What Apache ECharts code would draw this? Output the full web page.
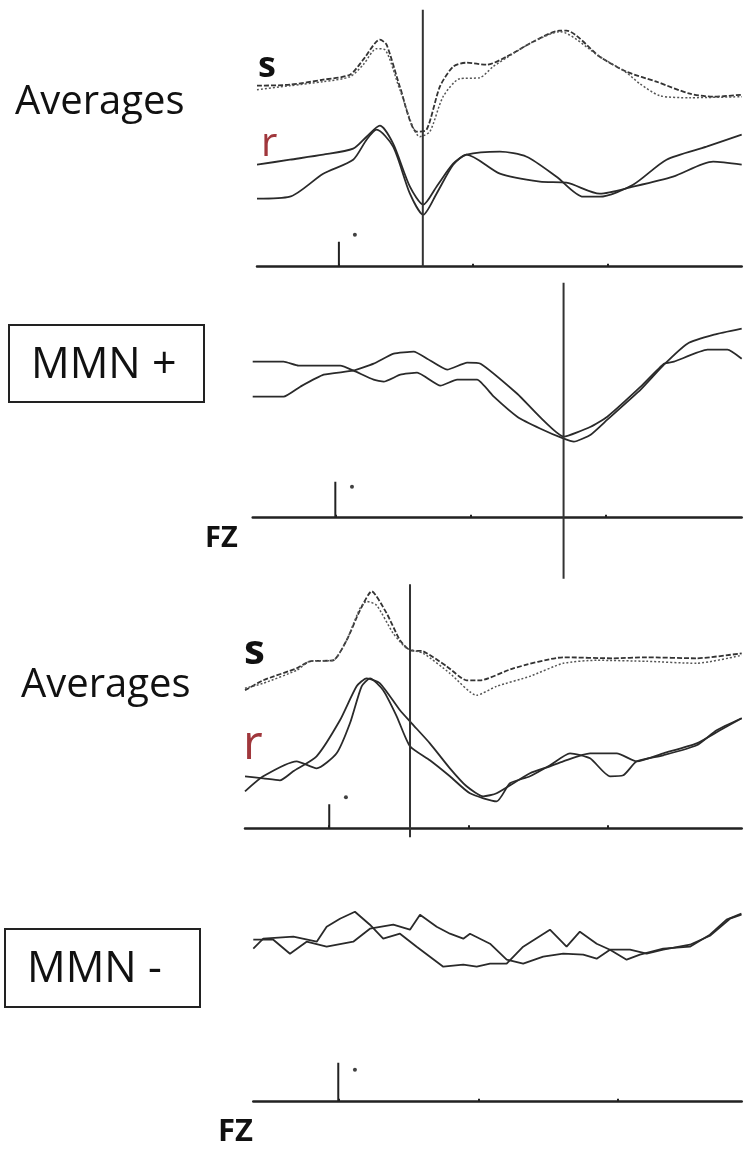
<!DOCTYPE html>
<html>
<head>
<meta charset="utf-8">
<script src="https://cdn.jsdelivr.net/npm/echarts@6/dist/echarts.min.js"></script>
<style>
  html, body { margin: 0; padding: 0; background: #fff; }
  #chart { width: 750px; height: 1162px; }
</style>
</head>
<body>
<div id="chart"></div>
<script>
// 时间 (ms) / 幅值 (任意单位, 0 = 基线)
// 面板1: Averages (上)
const avg1S_a = [[-61,18.1],[-36.5,18.2],[-11.7,18.7],[8.2,19.2],[18.1,20.7],[30.5,22.7],[35.5,22.2],[45.4,18.0],[57.8,13.5],[65.3,13.7],[75.2,18.0],[85.1,20.0],[95.1,20.4],[110,20.2],[124.9,21.0],[144.7,22.5],[164.6,23.6],[169.5,23.6],[194.3,21.0],[214.2,19.5],[236.5,18.5],[261.4,17.3],[278.7,17.0],[300,17.2]];
const avg1S_b = [[-61,17.7],[-36.5,18.1],[-11.7,18.5],[8.2,19.0],[18.1,20.2],[28,21.8],[34.3,21.7],[45.4,17.7],[60.3,13.0],[67.7,13.5],[77.6,17.0],[90,18.8],[104.9,18.9],[114.8,20.0],[124.9,20.9],[144.7,22.5],[164.6,23.5],[194.3,21.0],[214.2,19.4],[224.1,18.3],[239,17.1],[261.4,16.9],[300,17.0]];
const avg1R_a = [[-61,10.2],[-36.5,10.7],[-11.7,11.2],[10.6,11.8],[20.6,13.0],[30.5,14.1],[40.4,12.3],[52.9,8.0],[62.8,6.2],[72.7,8.0],[85.1,10.3],[95.1,11.2],[119.9,11.5],[139.8,11.0],[162.1,9.0],[181.9,7.0],[194.3,7.0],[219.1,8.2],[244,10.7],[273.8,12.0],[300,13.2]];
const avg1R_b = [[-61,6.8],[-36.5,7.0],[-11.7,9.3],[10.6,10.7],[20.6,12.7],[28.1,13.7],[40.4,12.0],[52.9,7.3],[62.8,5.2],[72.7,7.3],[85.1,10.2],[95.1,11.2],[119.9,9.3],[149.7,8.5],[169.5,8.4],[194.3,7.3],[219.1,8.0],[248.9,9.0],[278.7,10.5],[300,10.2]];

// 面板2: MMN +
const mmnPos_a = [[-61,15.6],[-38.2,15.6],[-27.1,15.2],[3.7,15.2],[13.5,14.7],[28.3,13.8],[35.7,13.6],[48,14.3],[60.4,14.5],[77.6,13.2],[89.9,13.8],[104.7,13.8],[117,12.1],[134.3,10.1],[151.5,8.9],[168.7,7.9],[176.1,7.6],[188.5,8.3],[200.8,9.8],[225.4,12.8],[242.6,15.3],[259.9,17.4],[279.6,18.3],[300,18.9]];
const mmnPos_b = [[-61,12.1],[-38.2,12.1],[-25.9,13.1],[-8.6,14.3],[13,14.7],[28.3,15.4],[43.1,16.4],[57.9,16.6],[67.8,15.9],[82.6,14.8],[97.3,15.5],[107.2,15.4],[134.3,12.4],[168.7,8.1],[188.5,9.1],[200.8,10.1],[225.4,13.1],[242.6,15.4],[250,15.6],[274.7,16.8],[289.5,16.8],[300,15.9]];

// 面板3: Averages (下)
const avg2S_a = [[-60.6,13.8],[-47.5,14.8],[-23.5,16.0],[-13.9,16.7],[2.9,16.8],[12.5,18.8],[22.1,21.8],[30.5,23.7],[41.3,21.5],[50.9,18.8],[58.1,17.8],[67.6,17.7],[84.5,16.2],[98.8,14.8],[108.4,14.8],[132.4,16.0],[168.3,17.1],[204.3,17.0],[228.3,17.1],[264.3,17.0],[296.7,17.5]];
const avg2S_b = [[-60.6,14.0],[-47.5,14.5],[-23.5,15.8],[-13.9,16.7],[2.9,16.8],[12.5,18.8],[22.1,22.0],[26.9,22.7],[34.1,22.3],[46,19.5],[55.7,18.0],[67.6,17.5],[86.8,15.5],[106,13.3],[120.4,14.2],[144.4,15.2],[168.3,16.5],[192.4,16.8],[228.3,16.7],[264.3,16.5],[296.7,17.3]];
const avg2R_a = [[-60.6,3.7],[-47.5,5.2],[-23.5,6.7],[-9.1,6.0],[5.3,7.5],[14.9,10.5],[23.3,14.2],[29.3,15.0],[38.8,13.8],[48.5,11.2],[58.1,8.2],[72.4,6.8],[86.8,5.2],[101.2,3.5],[120.4,2.7],[130,4.5],[144.4,5.2],[158.8,6.3],[173.2,7.5],[187.6,7.0],[201.9,5.2],[211.5,5.3],[221.2,6.7],[240.3,7.3],[264.3,8.3],[278.7,9.8],[296.7,11.0]];
const avg2R_b = [[-60.6,5.2],[-47.5,5.0],[-35.5,4.8],[-25.9,5.7],[-9.1,7.2],[7.7,10.8],[19.7,14.2],[26.9,15.0],[36.5,14.5],[50.9,11.8],[59.3,10.5],[72.4,8.5],[86.8,6.0],[98.8,4.2],[110.8,3.2],[120.4,3.5],[144.4,5.5],[158.8,6.2],[168.3,6.7],[187.6,7.5],[206.8,7.5],[221.2,6.7],[240.3,7.5],[264.3,8.5],[281.1,9.8],[296.7,11.0]];

// 面板4: MMN -
const mmnNeg_a = [[-60.7,15.3],[-53.6,16.3],[-32.1,16.5],[-15.4,16.0],[-8.3,17.5],[1.2,18.3],[11.9,19.0],[22.6,17.7],[32.1,16.3],[44.1,16.8],[56,15.5],[65.5,14.5],[75,13.5],[89.3,13.7],[98.9,13.5],[108.4,13.8],[120.3,13.8],[132.1,15.5],[151.2,17.2],[163.1,15.5],[172.6,17.0],[184.6,15.8],[194.1,15.2],[206,14.2],[215.5,14.7],[232.1,15.3],[251.2,15.5],[265.5,16.7],[277.4,18.2],[288,18.8]];
const mmnNeg_b = [[-60.7,16.2],[-46.4,16.2],[-34.5,14.8],[-22.6,16.0],[-8.3,15.5],[10.7,16.0],[22.6,17.3],[39.3,17.7],[51.2,17.2],[58.4,18.7],[70.3,17.5],[79.8,16.8],[89.3,16.3],[94.1,16.8],[108.4,15.8],[120.3,14.2],[132.1,13.8],[146.4,14.5],[160.7,14.8],[175,14.7],[184.6,14.3],[194.1,15.2],[208.4,15.2],[220.3,14.8],[232.1,15.2],[251.2,15.7],[265.5,16.6],[279.8,18.3],[288,18.7]];

// 刺激标记 (0 ms 竖线高度), 小圆点, 光标时间
const stickHeights = [2.5, 3.6, 2.4, 3.9];
const dotPoints = [[11.9, 3.2], [12.3, 3.1], [12, 3.1], [11.9, 3.2]];
const cursorTimes = [62.5, 168.5, 58.1, null];
const tickTimes = [0, 100, 200];

// 面板布局
const panels = [
  { left: 257, right: 8.3, axisY: 266.7, yMin: 0, yMax: 26, xMin: -61, xMax: 300, cursorTop: 25.7, smooth: 0.25 },
  { left: 252.7, right: 8.3, axisY: 517.7, yMin: -6.1, yMax: 23.5, xMin: -61, xMax: 300, cursorTop: 23.5, smooth: 0.15 },
  { left: 245, right: 8.3, axisY: 828.3, yMin: -0.9, yMax: 24.4, xMin: -60.6, xMax: 296.7, cursorTop: 24.4, smooth: 0.2 },
  { left: 253.3, right: 8.3, axisY: 1101.7, yMin: 0, yMax: 22, xMin: -60.7, xMax: 288.2, cursorTop: 0, smooth: false }
];
const pxPerUnit = 10;

const lineColor = '#2a2a2a';
const solid = { color: lineColor, width: 1.8 };
const dashA = { color: '#333', width: 1.8, type: [5, 2] };
const dashB = { color: '#555', width: 1.5, type: [2, 2] };

const panelSeries = [
  [[avg1S_a, dashA], [avg1S_b, dashB], [avg1R_a, solid], [avg1R_b, solid]],
  [[mmnPos_a, solid], [mmnPos_b, solid]],
  [[avg2S_a, dashA], [avg2S_b, dashB], [avg2R_a, solid], [avg2R_b, solid]],
  [[mmnNeg_a, solid], [mmnNeg_b, solid]]
];

const grid = [], xAxis = [], yAxis = [], series = [];
panels.forEach((p, i) => {
  const top = p.axisY - p.yMax * pxPerUnit;
  const bottomPx = p.axisY - p.yMin * pxPerUnit;
  grid.push({ left: p.left, right: p.right, top: top, height: bottomPx - top });
  xAxis.push({
    type: 'value', gridIndex: i, min: p.xMin, max: p.xMax,
    axisLine: { onZero: true, lineStyle: { color: '#222', width: 2.5 } },
    axisTick: { inside: true, length: 3, customValues: tickTimes, lineStyle: { color: '#222', width: 2 } },
    axisLabel: { show: false },
    splitLine: { show: false }
  });
  yAxis.push({
    type: 'value', gridIndex: i, min: p.yMin, max: p.yMax,
    axisLine: { show: false }, axisTick: { show: false },
    axisLabel: { show: false }, splitLine: { show: false }
  });
  panelSeries[i].forEach(([data, style]) => {
    series.push({
      type: 'line', xAxisIndex: i, yAxisIndex: i, data: data,
      showSymbol: false, smooth: p.smooth, lineStyle: style, silent: true
    });
  });
  // 刺激竖线
  series.push({
    type: 'line', xAxisIndex: i, yAxisIndex: i, showSymbol: false,
    data: [[0, 0], [0, stickHeights[i]]],
    lineStyle: { color: '#222', width: 2 }
  });
  // 小圆点
  series.push({
    type: 'scatter', xAxisIndex: i, yAxisIndex: i, symbolSize: 4,
    data: [dotPoints[i]], itemStyle: { color: '#111' }
  });
  // 光标竖线
  if (cursorTimes[i] !== null) {
    series.push({
      type: 'line', xAxisIndex: i, yAxisIndex: i, showSymbol: false,
      data: [[cursorTimes[i], p.yMin], [cursorTimes[i], p.cursorTop]],
      lineStyle: { color: '#333', width: 2 }
    });
  }
});

const sans = '"Open Sans", "Noto Sans", sans-serif';
const box = (x, y, w, h) => ({
  type: 'rect', shape: { x: x, y: y, width: w, height: h },
  style: { fill: 'none', stroke: '#222', lineWidth: 2 }, silent: true
});

const chart = echarts.init(document.getElementById('chart'));
chart.setOption({
  animation: false,
  backgroundColor: '#fff',
  grid: grid,
  xAxis: xAxis,
  yAxis: yAxis,
  series: series,
  graphic: [
    { type: 'text', x: 15, y: 103, style: { text: 'Averages', font: `40px ${sans}`, fill: '#111', verticalAlign: 'middle' } },
    { type: 'text', x: 258, y: 67, style: { text: 's', font: `bold 36px ${sans}`, fill: '#111', verticalAlign: 'middle' } },
    { type: 'text', x: 261, y: 145, style: { text: 'r', font: `40px ${sans}`, fill: '#a0373c', verticalAlign: 'middle' } },
    box(9, 325, 195, 77),
    { type: 'text', x: 31, y: 366, style: { text: 'MMN +', font: `43px ${sans}`, fill: '#111', verticalAlign: 'middle' } },
    { type: 'text', x: 205, y: 539, style: { text: 'FZ', font: `bold 29px ${sans}`, fill: '#111', verticalAlign: 'middle' } },
    { type: 'text', x: 21, y: 686, style: { text: 'Averages', font: `40px ${sans}`, fill: '#111', verticalAlign: 'middle' } },
    { type: 'text', x: 244, y: 652, style: { text: 's', font: `bold 42px ${sans}`, fill: '#111', verticalAlign: 'middle' } },
    { type: 'text', x: 243, y: 745, style: { text: 'r', font: `48px ${sans}`, fill: '#a0373c', verticalAlign: 'middle' } },
    box(5, 929, 195, 78),
    { type: 'text', x: 27, y: 970, style: { text: 'MMN -', font: `43px ${sans}`, fill: '#111', verticalAlign: 'middle' } },
    { type: 'text', x: 218, y: 1132, style: { text: 'FZ', font: `bold 31px ${sans}`, fill: '#111', verticalAlign: 'middle' } }
  ]
});
</script>
</body>
</html>
